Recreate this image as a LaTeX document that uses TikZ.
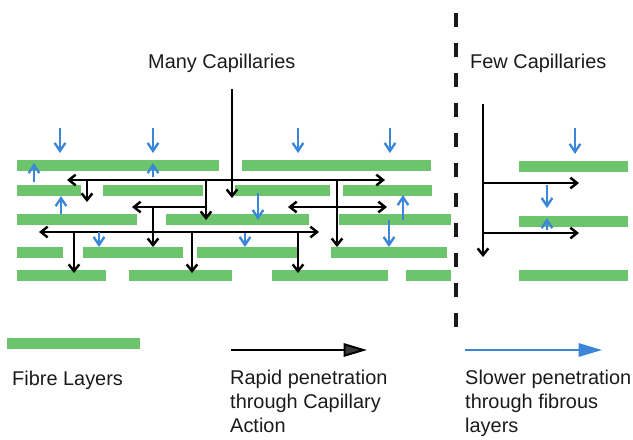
\documentclass[tikz,border=0pt]{standalone}
\usepackage{fontspec}
\setmainfont{Liberation Sans}
\usetikzlibrary{arrows.meta}
\definecolor{fibreGreen}{HTML}{6CC46C}
\definecolor{seepBlue}{HTML}{3B86D8}
\definecolor{keyGrey}{HTML}{3C3C3C}
\definecolor{txtInk}{HTML}{1A1A1A}
\tikzset{
  >={Straight Barb[length=2mm,width=3.2mm]},
  fibre/.style   ={fill=fibreGreen},
  capflow/.style ={->,black,line width=2.1pt},
  capboth/.style ={<->,black,line width=2.1pt},
  seep/.style    ={-{Straight Barb[length=2.4mm,width=3.2mm]},seepBlue,line width=2pt},
  divider/.style ={line width=3pt,dash pattern=on 12pt off 13.6pt,black!90},
  keyfast/.style ={-{Triangle[length=7mm,width=4mm,fill=keyGrey]},black,line width=1.7pt},
  keyslow/.style ={-{Triangle[length=7mm,width=4mm]},seepBlue,line width=1.7pt},
  lbl/.style     ={font=\fontsize{17}{20.5}\selectfont,inner sep=0pt,text=txtInk},
}
\begin{document}
\begin{tikzpicture}[x=0.03cm,y=-0.03cm]
\useasboundingbox (0,0) rectangle (633,439);

%% fibre layers
\foreach \a/\b/\y in {17/219/160, 242/431/160,
                      17/81/185, 103/203/185, 235/330/185, 343/432/185,
                      17/137/214, 166/309/214, 339/451/214,
                      17/63/247, 83/183/247, 197/297/247, 331/447/247,
                      17/106/270, 129/232/270, 272/388/270, 406/451/270,
                      519/628/161, 519/628/216, 519/628/270}
  \fill[fibre] (\a,\y) rectangle (\b,\y+11);

%% titles and divider
\node[lbl,anchor=base west] (many) at (148,68) {Many Capillaries};
\node[lbl,anchor=base west] (few) at (470,68) {Few Capillaries};
\draw[divider] (456,13) -- (456,330);

%% capillary network, left
\coordinate (top) at (232,89);
\draw[capflow] (top) -- (232,198);
\draw[capboth] (67,180) -- (385,180);
\draw[capflow] (87,180) -- (87,202);
\draw[capflow] (206,180) -- (206,220);
\draw[capflow] (337,180) -- (337,247);
\draw[capflow] (206,207) -- (132,207);
\draw[capflow] (153,207) -- (153,247);
\draw[capboth] (288,207) -- (387,207);
\draw[capboth] (39,232) -- (319,232);
\foreach \x in {74,192,298}
  \draw[capflow] (\x,232) -- (\x,273);

%% capillary network, right
\draw[capflow] (483,104) -- (483,257);
\draw[capflow] (483,183) -- (579,183);
\draw[capflow] (483,233) -- (579,233);

%% slow penetration through the layers
\foreach \x in {60,153,298,390}
  \draw[seep] (\x,128) -- (\x,153);
\draw[seep] (575,128) -- (575,154);
\draw[seep] (34,182) -- (34,163);
\draw[seep] (153,177) -- (153,163);
\draw[seep] (61,214) -- (61,196);
\draw[seep] (403,220) -- (403,195);
\draw[seep] (547,230) -- (547,218);
\draw[seep] (99,232) -- (99,247);
\draw[seep] (258,193) -- (258,220);
\draw[seep] (389,220) -- (389,247);
\draw[seep] (245,233) -- (245,247);
\draw[seep] (547,185) -- (547,208);

%% key
\fill[fibre] (7,338) rectangle (140,349);
\node[lbl,anchor=base west] (fibrekey) at (12,385) {Fibre Layers};
\coordinate (fastA) at (231,350);
\coordinate (fastB) at (367,350);
\draw[keyfast] (fastA) -- (fastB);
\node[lbl,anchor=north west,align=left] (fastkey) at (230,370)
  {Rapid penetration\\through Capillary\\Action};
\coordinate (slowA) at (465,350);
\coordinate (slowB) at (602,350);
\draw[keyslow] (slowA) -- (slowB);
\node[lbl,anchor=north west,align=left] (slowkey) at (465,370)
  {Slower penetration\\through fibrous\\layers};
\end{tikzpicture}
\end{document}
